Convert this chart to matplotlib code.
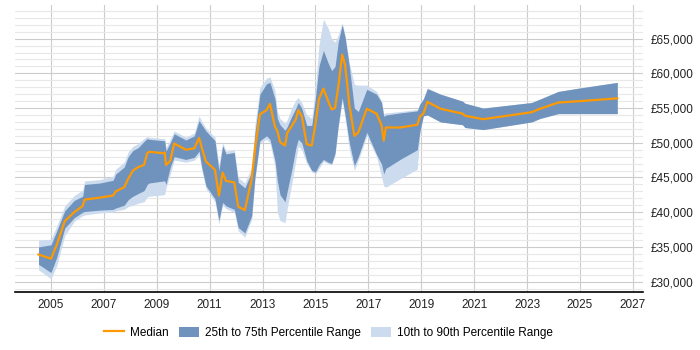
import matplotlib
matplotlib.use("Agg")
import matplotlib.pyplot as plt
from matplotlib.ticker import MultipleLocator, FuncFormatter

plt.rcParams['font.family'] = ['Liberation Sans', 'DejaVu Sans']

# salary percentiles over time
years = [2004.53, 2005.00, 2005.22, 2005.52, 2005.88, 2006.20, 2006.27, 2006.85,
         2007.35, 2007.45, 2007.77, 2007.92, 2008.10, 2008.30, 2008.52, 2008.64,
         2008.71, 2009.25, 2009.30, 2009.35, 2009.51, 2009.66, 2010.10, 2010.42,
         2010.60, 2010.70, 2010.86, 2011.20, 2011.35, 2011.49, 2011.62, 2011.93,
         2012.08, 2012.33, 2012.59, 2012.71, 2012.90, 2013.15, 2013.28, 2013.47,
         2013.56, 2013.66, 2013.85, 2013.93, 2014.10, 2014.26, 2014.35, 2014.48,
         2014.67, 2014.86, 2015.00, 2015.13, 2015.30, 2015.48, 2015.61, 2015.74,
         2015.86, 2016.01, 2016.12, 2016.28, 2016.47, 2016.62, 2016.94, 2017.31,
         2017.50, 2017.58, 2017.66, 2018.20, 2018.85, 2018.95, 2019.08, 2019.23,
         2019.73, 2020.56, 2020.65, 2021.34, 2023.17, 2023.49, 2024.18, 2025.00,
         2026.41]

median = [33900, 33300, 35300, 38700, 40000, 40900, 41800, 42100,
          42400, 43000, 43600, 44800, 46000, 46500, 46800, 48500,
          48700, 48500, 48600, 46800, 47400, 49900, 49000, 49200,
          50700, 49300, 47300, 46100, 42400, 45700, 44500, 44300,
          40800, 40300, 44800, 49000, 54100, 54700, 55600, 52300,
          51700, 50100, 49600, 51400, 52400, 53400, 54700, 53900,
          49800, 49600, 52700, 56300, 57800, 56000, 54800, 55000,
          58000, 62700, 61200, 55500, 51000, 51500, 54900, 54200,
          52500, 50300, 52200, 52200, 52600, 53800, 54200, 55900,
          54900, 54200, 53900, 53400, 54400, 54900, 55800, 56000,
          56400]

p25 = [32500, 31300, 33500, 37700, 39200, 40000, 40100, 40300,
       40400, 40600, 41000, 41800, 42300, 42700, 43100, 44000,
       44200, 44500, 44500, 44000, 46500, 48000, 47600, 47900,
       48800, 46500, 43800, 41900, 38800, 41400, 40900, 40400,
       37800, 37000, 39500, 45000, 50300, 51000, 50500, 47400,
       44500, 42500, 41500, 43000, 46000, 49300, 50500, 50000,
       47400, 46000, 45800, 46800, 47600, 47200, 47000, 48500,
       52500, 56500, 54000, 50000, 46700, 48000, 51500, 48300,
       46900, 45500, 46300, 47600, 49000, 51700, 53900, 54000,
       53000, 52600, 52200, 51900, 53000, 53500, 54200, 54200,
       54200]

p75 = [35000, 35300, 37300, 40200, 41700, 42300, 44000, 44200,
       44600, 45500, 46500, 48000, 48900, 49300, 50200, 50600,
       50500, 50300, 50300, 48800, 50000, 51300, 50400, 51000,
       53200, 52600, 51700, 50300, 46000, 49600, 48400, 48600,
       44300, 43500, 45800, 51300, 57000, 58500, 58700, 56300,
       53500, 52600, 51800, 52300, 53800, 55000, 55800, 55000,
       52500, 52500, 56500, 61000, 63300, 61500, 60400, 61000,
       64500, 67000, 65200, 61000, 55000, 54500, 57700, 57000,
       55800, 53800, 54000, 54300, 54600, 55600, 56300, 57800,
       57000, 56000, 55700, 55000, 55800, 56300, 57400, 57900,
       58700]

p10 = [31700, 30400, 32300, 36600, 38700, 39500, 39600, 39900,
       40000, 40200, 40400, 40800, 41000, 41300, 41500, 42200,
       42300, 42500, 42600, 43500, 45500, 47500, 47200, 47500,
       48300, 46000, 43400, 41500, 38300, 41000, 40500, 40000,
       37300, 36400, 39000, 44500, 50000, 50500, 50000, 46500,
       40000, 38800, 38500, 40500, 44000, 47500, 49500, 49000,
       47000, 45800, 45500, 46300, 47300, 47000, 46800, 48200,
       52000, 56000, 53500, 49000, 46000, 47500, 51000, 48000,
       45000, 43800, 43600, 44800, 46200, 51500, 53800, 54000,
       53000, 52600, 52200, 51900, 53000, 53500, 54200, 54200,
       54200]

p90 = [36000, 36100, 38000, 40900, 42400, 43200, 44500, 44700,
       45200, 46200, 47200, 48700, 49500, 49900, 50600, 50900,
       50800, 50600, 50600, 49300, 50500, 51700, 50800, 51400,
       53900, 53100, 52100, 50800, 46800, 50000, 48800, 49000,
       45000, 44200, 46500, 52500, 58000, 59300, 59500, 57500,
       54500, 53500, 52800, 53300, 55000, 56200, 56500, 55800,
       54000, 53500, 58000, 64000, 67800, 66500, 65000, 64500,
       65500, 67300, 65500, 61500, 58400, 58300, 58300, 57400,
       56000, 54200, 54300, 54500, 54800, 55700, 56400, 57900,
       57000, 56000, 55700, 55000, 55800, 56300, 57400, 57900,
       58700]

fig = plt.figure(figsize=(7, 3.5), dpi=100)
ax = fig.add_axes([0.0214, 0.1657, 0.8967, 0.82])

band90 = ax.fill_between(years, p10, p90, color='#ccdcee', lw=0, zorder=2,
                         label='10th to 90th Percentile Range')
band75 = ax.fill_between(years, p25, p75, color='#7093bd', lw=0, zorder=3,
                         label='25th to 75th Percentile Range')
line, = ax.plot(years, median, color='#ff9900', lw=1.6, zorder=4, label='Median')

ax.set_xlim(2003.64, 2027.37)
ax.set_ylim(28500, 69850)
ax.set_xticks(range(2005, 2028, 2))
ax.yaxis.set_major_locator(MultipleLocator(5000))
ax.yaxis.set_minor_locator(MultipleLocator(1000))
ax.yaxis.set_major_formatter(FuncFormatter(lambda v, p: '£{:,.0f}'.format(v)))
ax.yaxis.tick_right()

ax.set_axisbelow(True)
ax.grid(which='major', color='#cccccc', lw=0.8)
ax.grid(which='minor', axis='y', color='#e8e8e8', lw=0.8)

for s in ['top', 'left', 'right']:
    ax.spines[s].set_visible(False)
ax.spines['bottom'].set_color('black')
ax.spines['bottom'].set_linewidth(1.2)

ax.tick_params(axis='both', which='both', length=0, labelsize=8.5, colors='#222222')
ax.tick_params(axis='y', pad=6)
ax.tick_params(axis='x', pad=5)

fig.legend(handles=[line, band75, band90], loc='center', ncol=3,
           bbox_to_anchor=(0.469, 0.049), frameon=False, fontsize=8.5,
           handlelength=1.7, handleheight=1.0, handletextpad=0.5,
           columnspacing=0.9)

fig.savefig('out.png', dpi=100)
